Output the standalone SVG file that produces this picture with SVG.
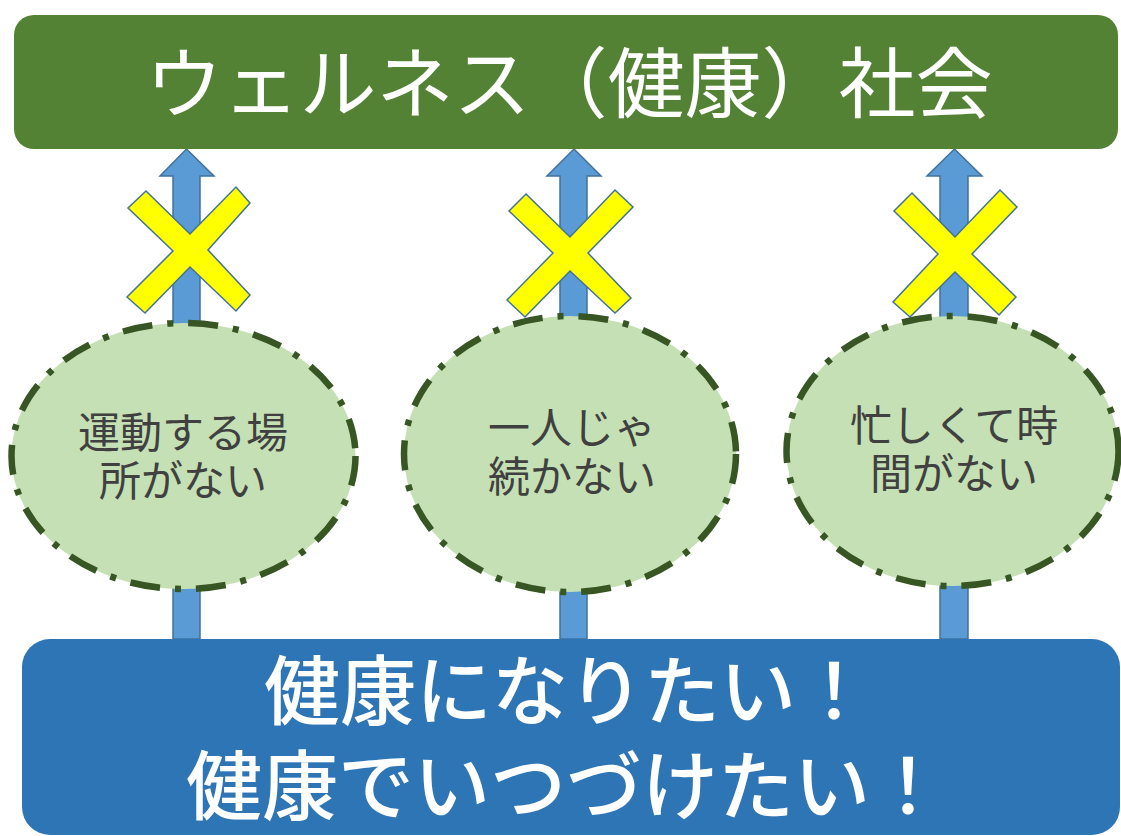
<svg xmlns="http://www.w3.org/2000/svg" width="1121" height="836" viewBox="0 0 1121 836">
<style>
.arrow{fill:#5b9bd5;stroke:#41719c;stroke-width:1.5}
.cross{fill:#ffff00;stroke:#41719c;stroke-width:1.5}
.bubble{fill:#c5e0b4;stroke:#375623;stroke-width:6.5;stroke-dasharray:30 15 6 15}
.btxt{font-family:"Noto Sans CJK JP","Noto Sans",sans-serif;font-size:42px;fill:#404040;text-anchor:middle}
.big{font-family:"Noto Sans CJK JP","Noto Sans",sans-serif;fill:#ffffff;text-anchor:middle}
</style>
<rect width="1121" height="836" fill="#ffffff"/>
<g id="connectors">
<path class="arrow" d="M173,639 L173,176 L160,176 L186.5,149 L214,176 L200,176 L200,639 Z"/>
<path class="arrow" d="M560,639 L560,176 L547,176 L574,149 L601,176 L587,176 L587,639 Z"/>
<path class="arrow" d="M940,639 L940,176 L927,176 L954.5,149 L982,176 L968,176 L968,639 Z"/>
</g>
<g id="cross1"><polygon class="cross" points="146,191 190,234 236,187 250,203 208,250 250,295 236,311 190,267 145,313 127,297 173,251 128,208"/></g>
<g id="cross2"><polygon class="cross" points="526,194 570,237 615,190 633,207 588,253 631,298 615,313 570,271 525,317 507,300 553,253 509,211"/></g>
<g id="cross3"><polygon class="cross" points="912,193 955,237 1000,190 1017,207 972,254 1016,297 999,315 955,272 910,317 893,302 938,254 894,211"/></g>
<g id="bubble1">
<ellipse class="bubble" cx="183.5" cy="456" rx="172" ry="133"/>
<text class="btxt" x="183" y="448">運動する場</text>
<text class="btxt" x="183" y="496">所がない</text>
</g>
<g id="bubble2">
<ellipse class="bubble" cx="570" cy="454" rx="166" ry="138"/>
<text class="btxt" x="572" y="443">一人じゃ</text>
<text class="btxt" x="572" y="492">続かない</text>
</g>
<g id="bubble3">
<ellipse class="bubble" cx="952.5" cy="451" rx="166" ry="135"/>
<text class="btxt" x="954" y="441">忙しくて時</text>
<text class="btxt" x="954" y="489">間がない</text>
</g>
<g id="top">
<rect x="14" y="15" width="1104" height="134" rx="20" ry="20" fill="#548235"/>
<text class="big" x="569" y="112" font-size="77">ウェルネス（健康）社会</text>
</g>
<g id="bottom">
<rect x="22" y="639" width="1098" height="196" rx="28" ry="28" fill="#2e75b6"/>
<text class="big" x="568" y="719" font-size="76" font-weight="500">健康になりたい！</text>
<text class="big" x="566" y="814" font-size="76" font-weight="500">健康でいつづけたい！</text>
</g>
</svg>
